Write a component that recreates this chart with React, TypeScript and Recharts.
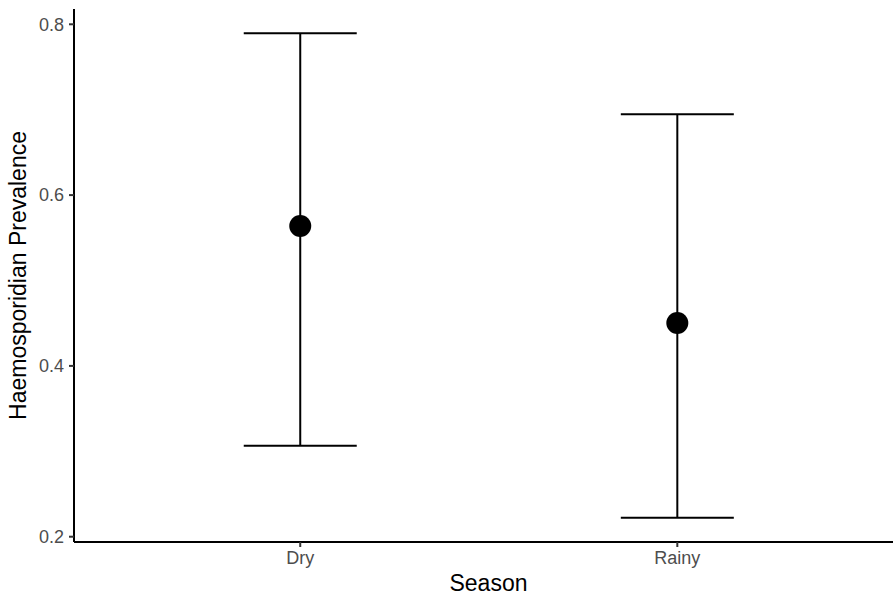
import React from 'react';
import { ComposedChart, Scatter, ErrorBar, XAxis, YAxis } from 'recharts';

const seasons = ['Dry', 'Rainy'];
const prevalence = [0.5637, 0.4503];
const lowerCI = [0.3064, 0.2222];
const upperCI = [0.7895, 0.6947];
const yTicks = [0.2, 0.4, 0.6, 0.8];

const data = seasons.map((s, i) => ({
  pos: i + 1,
  season: s,
  value: prevalence[i],
  err: [prevalence[i] - lowerCI[i], upperCI[i] - prevalence[i]],
}));

const tickStyle = { fill: '#4d4d4d', fontSize: 18, fontFamily: 'Liberation Sans, Arial, sans-serif' };
const titleStyle = { fill: '#000', fontSize: 23, fontFamily: 'Liberation Sans, Arial, sans-serif' };

export default function App() {
  return (
    <div style={{ position: 'absolute', left: 0, top: 0, background: '#fff' }}>
      <ComposedChart
        width={893}
        height={597}
        data={data}
        margin={{ top: 9, right: 0, bottom: 10, left: 14 }}
      >
        <XAxis
          dataKey="pos"
          type="number"
          domain={[0.4, 2.572]}
          allowDataOverflow
          ticks={[1, 2]}
          tickFormatter={(v: number) => seasons[v - 1]}
          tick={tickStyle}
          tickSize={5}
          tickMargin={4}
          height={45}
          axisLine={{ stroke: '#000', strokeWidth: 2 }}
          tickLine={{ stroke: '#333', strokeWidth: 2 }}
          label={{ value: 'Season', position: 'center', dx: 5, dy: 18, style: titleStyle }}
        />
        <YAxis
          dataKey="value"
          type="number"
          domain={[0.1938, 0.8179]}
          allowDataOverflow
          ticks={yTicks}
          tickFormatter={(v: number) => v.toFixed(1)}
          tick={tickStyle}
          tickSize={5}
          tickMargin={5}
          width={60}
          axisLine={{ stroke: '#000', strokeWidth: 2 }}
          tickLine={{ stroke: '#333', strokeWidth: 2 }}
          label={{ value: 'Haemosporidian Prevalence', angle: -90, position: 'center', dx: -26, style: titleStyle }}
        />
        <Scatter
          dataKey="value"
          fill="#000"
          isAnimationActive={false}
          shape={(p: any) => <circle cx={p.cx} cy={p.cy} r={11} fill="#000" />}
        >
          <ErrorBar dataKey="err" direction="y" width={56.5} stroke="#000" strokeWidth={2} />
        </Scatter>
      </ComposedChart>
    </div>
  );
}
